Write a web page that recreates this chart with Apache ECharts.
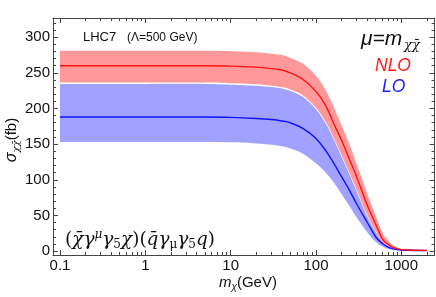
<!DOCTYPE html>
<html>
<head>
<meta charset="utf-8">
<script src="https://cdn.jsdelivr.net/npm/echarts@6/dist/echarts.min.js"></script>
<style>
html,body{margin:0;padding:0;background:#fff;}
#c{width:436px;height:297px;}
</style>
</head>
<body>
<div id="c"></div>
<script>
// ---- data ----
const mass = [0.1, 1, 5, 10, 20, 30, 40, 50, 70, 100, 130, 160, 200, 250, 300, 400, 500, 600, 700, 800, 1000, 1200, 1500, 2000];
const nloCentral = [260, 260, 260, 259.5, 258, 256, 254, 250, 241, 224, 204, 180, 155, 127, 104, 64, 38, 17, 9.5, 5, 2, 1.5, 1, 0.8];
const nloUpper   = [281, 281, 281, 280.5, 279, 277, 275, 271, 263, 246, 226, 203, 176, 148, 122, 80, 50, 26, 15, 8, 3, 2, 1.3, 1];
const nloLower   = [236.5, 236.5, 236.5, 235.5, 234, 232, 230, 226.5, 218.5, 201, 181, 160, 134, 108, 86, 50, 28, 12, 6.5, 3.5, 1.5, 1.2, 0.9, 0.7];
const loCentral  = [188, 188, 188, 187.5, 186, 184.5, 182.5, 180, 172, 158, 141, 124, 104, 84, 66, 40, 20, 10.5, 5.5, 3, 1.4, 1.1, 0.8, 0.6];
const loUpper    = [234.5, 234.5, 234.5, 233.5, 232, 230, 228, 224.5, 216.5, 199, 179, 158, 132, 106, 84, 48, 27, 12, 6.3, 3.3, 1.4, 1.1, 0.8, 0.6];
const loLower    = [153, 153, 153, 152.5, 151, 149, 147, 144, 137, 123, 110, 97, 80, 62, 47, 26, 13, 6.5, 3.2, 1.8, 1, 0.8, 0.6, 0.5];

const xMajorTicks = [0.1, 1, 10, 100, 1000];
const xMinorTicks = [];
[0.1, 1, 10, 100, 1000].forEach(d => { for (let k = 2; k <= 9; k++) { if (k * d < 2450) xMinorTicks.push(+(k * d).toPrecision(3)); } });
const yMajorTicks = [0, 50, 100, 150, 200, 250, 300];
const yMinorTicks = [];
for (let v = 0; v <= 320; v += 10) { if (v % 50 !== 0) yMinorTicks.push(v); }

const X_MIN = 0.0828, X_MAX = 2450, Y_MIN = -5.6, Y_MAX = 327;
const frameColor = '#444';
const FONT = 'Liberation Sans';
const MATH = 'DejaVu Serif';

const pairs = arr => mass.map((m, i) => [m, arr[i]]);

// Catmull-Rom style smoothing of pixel points into a cubic Bezier path
function curveSeg(pts, start) {
  let d = start ? `M${pts[0][0]},${pts[0][1]}` : `L${pts[0][0]},${pts[0][1]}`;
  for (let i = 0; i < pts.length - 1; i++) {
    const p0 = pts[i - 1] || pts[i], p1 = pts[i], p2 = pts[i + 1], p3 = pts[i + 2] || pts[i + 1];
    const c1 = [p1[0] + (p2[0] - p0[0]) / 6, p1[1] + (p2[1] - p0[1]) / 6];
    const c2 = [p2[0] - (p3[0] - p1[0]) / 6, p2[1] - (p3[1] - p1[1]) / 6];
    d += ` C${c1[0]},${c1[1]} ${c2[0]},${c2[1]} ${p2[0]},${p2[1]}`;
  }
  return d;
}

function bandSeries(name, hi, lo, fill) {
  return {
    type: 'custom', name, coordinateSystem: 'cartesian2d', xAxisIndex: 0, yAxisIndex: 0, silent: true, clip: true,
    data: pairs(hi),
    renderItem(params, api) {
      if (params.dataIndex !== 0) return null;
      const up = mass.map((m, i) => api.coord([m, hi[i]]));
      const dn = mass.map((m, i) => api.coord([m, lo[i]])).reverse();
      return { type: 'path', shape: { pathData: curveSeg(up, true) + ' ' + curveSeg(dn, false) + ' Z' },
               style: { fill, stroke: null } };
    }
  };
}
function lineSeries(name, vals, color) {
  return {
    type: 'custom', name, coordinateSystem: 'cartesian2d', xAxisIndex: 0, yAxisIndex: 0, silent: true, clip: true,
    data: pairs(vals),
    renderItem(params, api) {
      if (params.dataIndex !== 0) return null;
      const pts = mass.map((m, i) => api.coord([m, vals[i]]));
      return { type: 'path', shape: { pathData: curveSeg(pts, true) },
               style: { fill: null, stroke: color, lineWidth: 1.4 } };
    }
  };
}

function xAxisDef(pos, major) {
  return {
    type: 'log', min: X_MIN, max: X_MAX, position: pos, gridIndex: 0,
    axisLine: { show: major, onZero: false, lineStyle: { color: frameColor, width: 1 } },
    axisTick: { show: true, inside: true, length: major ? 5 : 3, customValues: major ? xMajorTicks : xMinorTicks,
                lineStyle: { color: frameColor, width: 1 } },
    axisLabel: { show: major && pos === 'bottom', customValues: xMajorTicks, formatter: v => String(v),
                 fontSize: 15, fontFamily: FONT, color: '#111', margin: 3 },
    splitLine: { show: false }, minorTick: { show: false }
  };
}
function yAxisDef(pos, major) {
  return {
    type: 'value', min: Y_MIN, max: Y_MAX, position: pos, gridIndex: 0,
    axisLine: { show: major, onZero: false, lineStyle: { color: frameColor, width: 1 } },
    axisTick: { show: true, inside: true, length: major ? 5 : 3, customValues: major ? yMajorTicks : yMinorTicks,
                lineStyle: { color: frameColor, width: 1 } },
    axisLabel: { show: major && pos === 'left', customValues: yMajorTicks,
                 fontSize: 15, fontFamily: FONT, color: '#111', margin: 3 },
    splitLine: { show: false }
  };
}

const chart = echarts.init(document.getElementById('c'), null, { renderer: 'canvas' });
chart.setOption({
  animation: false,
  grid: { left: 53, right: 1.5, top: 18, bottom: 42, containLabel: false },
  xAxis: [xAxisDef('bottom', true), xAxisDef('bottom', false), xAxisDef('top', true), xAxisDef('top', false)],
  yAxis: [yAxisDef('left', true), yAxisDef('left', false), yAxisDef('right', true), yAxisDef('right', false)],
  series: [
    bandSeries('NLO band', nloUpper, nloLower, 'rgba(255,0,0,0.40)'),
    bandSeries('LO band', loUpper, loLower, 'rgba(0,0,255,0.37)'),
    lineSeries('LO', loCentral, '#1010ff'),
    lineSeries('NLO', nloCentral, '#ff1010')
  ],
  graphic: { elements: [
    { type: 'text', x: 83, y: 37.5, silent: true,
      style: { text: 'LHC7', fontSize: 13, fontFamily: FONT, fill: '#111', verticalAlign: 'middle' } },
    { type: 'text', x: 127, y: 38, silent: true,
      style: { text: '(\u039B=500 GeV)', fontSize: 12, fontFamily: FONT, fill: '#111', verticalAlign: 'middle' } },
    { type: 'text', x: 361, y: 39, silent: true,
      style: { text: '\u03BC=m', fontSize: 21, fontStyle: 'italic', fontFamily: FONT, fill: '#111', verticalAlign: 'middle' } },
    { type: 'text', x: 404, y: 46, silent: true,
      style: { text: '\u03C7\u03C7\u0304', fontSize: 13, fontStyle: 'italic', fontFamily: MATH, fill: '#111', verticalAlign: 'middle' } },
    { type: 'text', x: 375, y: 66, silent: true,
      style: { text: 'NLO', fontSize: 17.5, fontStyle: 'italic', fontFamily: FONT, fill: '#ff1a1a', verticalAlign: 'middle' } },
    { type: 'text', x: 382, y: 87, silent: true,
      style: { text: 'LO', fontSize: 17.5, fontStyle: 'italic', fontFamily: FONT, fill: '#1a1aff', verticalAlign: 'middle' } },
    { type: 'text', x: 65, y: 240, silent: true,
      style: {
        text: '{p|(}{g|\u03C7\u0304\u03B3}{sup|\u03BC}{g|\u03B3}{sub|5}{g|\u03C7}{p|)(}{g|q\u0304\u03B3}{sub|\u03BC}{g|\u03B3}{sub|5}{g|q}{p|)}',
        verticalAlign: 'middle', fill: '#111',
        rich: {
          p: { fontSize: 18.5, fontFamily: MATH, fill: '#111', lineHeight: 22, verticalAlign: 'middle' },
          g: { fontSize: 18.5, fontStyle: 'italic', fontFamily: MATH, fill: '#111', lineHeight: 22, verticalAlign: 'middle' },
          sup: { fontSize: 12, fontStyle: 'italic', fontFamily: MATH, fill: '#111', lineHeight: 12, verticalAlign: 'top' },
          sub: { fontSize: 12, fontFamily: MATH, fill: '#111', lineHeight: 12, verticalAlign: 'bottom' }
        }
      } },
    { type: 'text', x: 219, y: 283, silent: true,
      style: {
        text: '{i|m}{sub|\u03C7}{n|(GeV)}', verticalAlign: 'middle', fill: '#111',
        rich: {
          i: { fontSize: 15, fontStyle: 'italic', fontFamily: FONT, fill: '#111', lineHeight: 18, verticalAlign: 'middle' },
          sub: { fontSize: 10, fontStyle: 'italic', fontFamily: FONT, fill: '#111', lineHeight: 10, verticalAlign: 'bottom' },
          n: { fontSize: 15, fontFamily: FONT, fill: '#111', lineHeight: 18, verticalAlign: 'middle' }
        }
      } },
    { type: 'text', x: 12, y: 140, rotation: Math.PI / 2, silent: true,
      style: {
        text: '{i|\u03C3}{sub|\u03C7\u03C7\u0304}{n|(fb)}', align: 'center', verticalAlign: 'middle', fill: '#111',
        rich: {
          i: { fontSize: 16, fontStyle: 'italic', fontFamily: FONT, fill: '#111', lineHeight: 18, verticalAlign: 'middle' },
          sub: { fontSize: 10, fontStyle: 'italic', fontFamily: MATH, fill: '#111', lineHeight: 10, verticalAlign: 'bottom' },
          n: { fontSize: 15, fontFamily: FONT, fill: '#111', lineHeight: 18, verticalAlign: 'middle' }
        }
      } }
  ] }
});
</script>
</body>
</html>
